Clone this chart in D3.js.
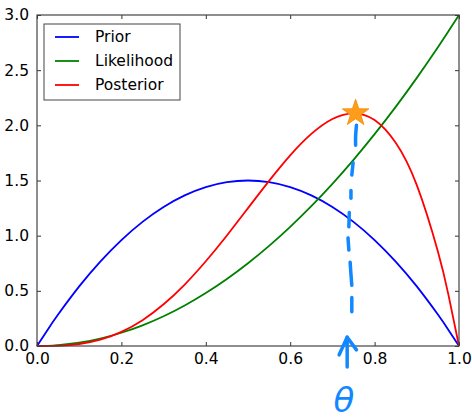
<!DOCTYPE html>
<html>
<head>
<meta charset="utf-8">
<script src="https://cdn.jsdelivr.net/npm/d3@7"></script>
<style>
  body { margin: 0; background: #fff; }
  text { font-family: "DejaVu Sans", sans-serif; }
</style>
</head>
<body>
<script>
// values
var theta = [0, 0.025, 0.05, 0.1, 0.15, 0.2, 0.25, 0.3, 0.35, 0.4, 0.45, 0.5,
             0.55, 0.6, 0.65, 0.7, 0.75, 0.8, 0.85, 0.9, 0.95, 0.975, 1.0];
var prior = [0, 0.146, 0.285, 0.54, 0.765, 0.96, 1.125, 1.26, 1.365, 1.44, 1.485, 1.5,
             1.485, 1.44, 1.365, 1.26, 1.125, 0.96, 0.765, 0.54, 0.285, 0.146, 0];
var likelihood = [0, 0.002, 0.0075, 0.03, 0.0675, 0.12, 0.1875, 0.27, 0.3675, 0.48, 0.6075, 0.75,
                  0.9075, 1.08, 1.2675, 1.47, 1.6875, 1.92, 2.1675, 2.43, 2.7075, 2.852, 3.0];
var posterior = [0, 0.0003, 0.0024, 0.018, 0.057, 0.128, 0.234, 0.378, 0.557, 0.768, 1.002, 1.25,
                 1.497, 1.728, 1.922, 2.058, 2.109, 2.048, 1.842, 1.458, 0.857, 0.463, 0];
var seriesNames = ["Prior", "Likelihood", "Posterior"];
var seriesColors = ["#0000ff", "#008000", "#ff0000"];
var xTicks = [0, 0.2, 0.4, 0.6, 0.8, 1.0];
var yTicks = [0, 0.5, 1.0, 1.5, 2.0, 2.5, 3.0];

// hand drawn annotation (data units)
var peak = [0.755, 2.11];
var dashes = [
  [[0.757, 2.0], [0.755, 1.9], [0.755, 1.82]],
  [[0.749, 1.66], [0.746, 1.55]],
  [[0.744, 1.41], [0.744, 1.34]],
  [[0.740, 1.21], [0.739, 1.08]],
  [[0.737, 0.98], [0.739, 0.87]],
  [[0.742, 0.76], [0.744, 0.65], [0.746, 0.55]],
  [[0.746, 0.44], [0.746, 0.31]]
];
var arrowShaft = [[0.735, 0.08], [0.735, -0.19]];
var arrowHead = [[0.716, -0.08], [0.735, 0.08], [0.757, -0.035]];

var W = 472, H = 419;
var margin = {top: 15, right: 13, bottom: 73, left: 37};
var w = W - margin.left - margin.right;
var h = H - margin.top - margin.bottom;

var svg = d3.select("body").append("svg")
  .attr("width", W).attr("height", H);
var g = svg.append("g").attr("transform", "translate(" + margin.left + "," + margin.top + ")");

var x = d3.scaleLinear().domain([0, 1]).range([0, w]);
var y = d3.scaleLinear().domain([0, 3]).range([h, 0]);

var series = [prior, likelihood, posterior];
var line = d3.line()
  .x(function(d, i){ return x(theta[i]); })
  .y(function(d){ return y(d); })
  .curve(d3.curveNatural);

g.selectAll("path.curve")
  .data(series)
  .enter()
  .append("path")
  .attr("class", "curve")
  .attr("d", line)
  .attr("fill", "none")
  .attr("stroke", function(d, i){ return seriesColors[i]; })
  .attr("stroke-width", 1.8);

// axes with inward ticks, on all four sides
function styleAxis(sel){
  sel.select(".domain").remove();
  sel.selectAll(".tick line").attr("stroke", "#333");
  sel.selectAll(".tick text").attr("fill", "#000").attr("font-size", 15.5)
    .attr("font-family", "DejaVu Sans, sans-serif");
}
var fmt = d3.format(".1f");
g.append("g").attr("transform", "translate(0," + h + ")")
  .call(d3.axisBottom(x).tickValues(xTicks).tickFormat(fmt).tickSizeInner(-4).tickPadding(7))
  .call(styleAxis);
g.append("g")
  .call(d3.axisLeft(y).tickValues(yTicks).tickFormat(fmt).tickSizeInner(-4).tickPadding(8))
  .call(styleAxis);
g.append("g")
  .call(d3.axisTop(x).tickValues(xTicks).tickFormat("").tickSizeInner(-4))
  .call(styleAxis);
g.append("g").attr("transform", "translate(" + w + ",0)")
  .call(d3.axisRight(y).tickValues(yTicks).tickFormat("").tickSizeInner(-4))
  .call(styleAxis);

g.append("rect")
  .attr("width", w).attr("height", h)
  .attr("fill", "none").attr("stroke", "#444").attr("stroke-width", 1.2);

// legend
var legend = g.append("g").attr("transform", "translate(7,9)");
legend.append("rect")
  .attr("width", 136).attr("height", 76)
  .attr("fill", "#fff").attr("stroke", "#444").attr("stroke-width", 1);
var items = legend.selectAll("g.item")
  .data(seriesNames)
  .enter()
  .append("g")
  .attr("transform", function(d, i){ return "translate(0," + (13 + i * 24) + ")"; });
items.append("line")
  .attr("x1", 11).attr("x2", 35)
  .attr("stroke", function(d, i){ return seriesColors[i]; })
  .attr("stroke-width", 1.8);
items.append("text")
  .attr("x", 51).attr("dy", "0.35em")
  .attr("font-size", 15.5)
  .text(function(d){ return d; });

// hand drawn marks
var hand = "#1188ff";
var pl = d3.line().x(function(d){ return x(d[0]); }).y(function(d){ return y(d[1]); })
  .curve(d3.curveCatmullRom);
var ann = g.append("g").attr("fill", "none").attr("stroke", hand)
  .attr("stroke-width", 3.5).attr("stroke-linecap", "round").attr("stroke-linejoin", "round");
ann.selectAll("path.dash").data(dashes).enter().append("path")
  .attr("class", "dash").attr("d", pl);
ann.append("path").attr("d", pl(arrowShaft));
ann.append("path").attr("d", d3.line().x(function(d){ return x(d[0]); }).y(function(d){ return y(d[1]); })(arrowHead));

g.append("text")
  .attr("x", x(0.727)).attr("y", y(-0.6))
  .attr("text-anchor", "middle")
  .attr("font-size", 34)
  .attr("font-style", "italic")
  .attr("fill", hand)
  .text("θ");

// star on the posterior peak
var starPts = d3.range(10).map(function(i){
  var r = i % 2 === 0 ? 14 : 5.5;
  var a = -Math.PI / 2 + i * Math.PI / 5;
  return [r * Math.cos(a), r * Math.sin(a)];
});
g.append("path")
  .attr("transform", "translate(" + x(peak[0]) + "," + y(peak[1]) + ")")
  .attr("d", d3.line()(starPts) + "Z")
  .attr("fill", "#ff9c1a")
  .attr("stroke", "#f08a00")
  .attr("stroke-width", 0.8);
</script>
</body>
</html>
